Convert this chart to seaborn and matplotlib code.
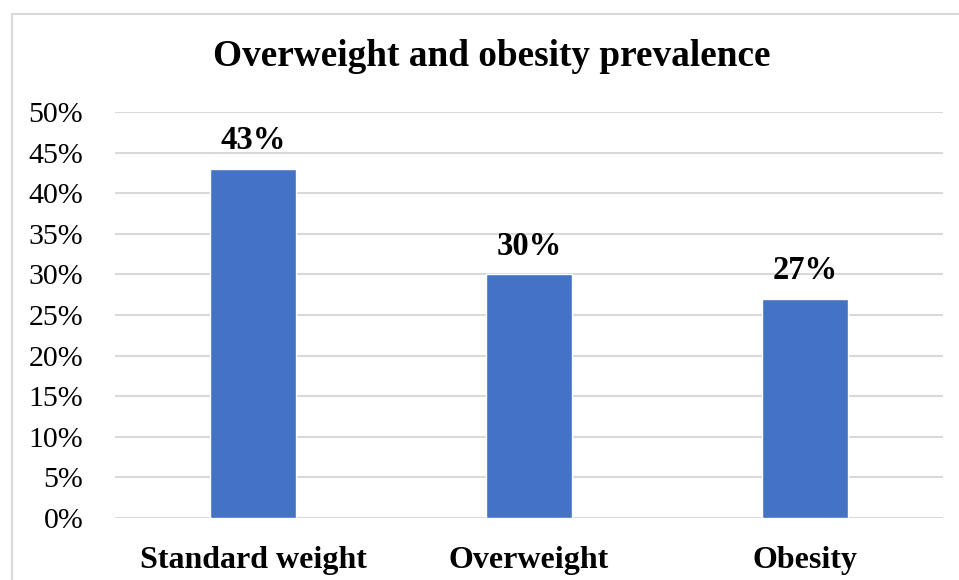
import matplotlib
matplotlib.use("Agg")
import matplotlib.pyplot as plt
import matplotlib.patches as mpatches
import seaborn as sns
import pandas as pd

# data
categories = ["Standard weight", "Overweight", "Obesity"]
prevalence = [43, 30, 27]
y_ticks = [0, 5, 10, 15, 20, 25, 30, 35, 40, 45, 50]

df = pd.DataFrame({"group": categories, "pct": prevalence})

sns.set_theme(style="white")
plt.rcParams["font.family"] = ["Liberation Serif", "DejaVu Serif"]
plt.rcParams["text.color"] = "black"
plt.rcParams["xtick.color"] = "black"
plt.rcParams["ytick.color"] = "black"

fig = plt.figure(figsize=(9.59, 5.80), dpi=100)
ax = fig.add_axes([0.12, 0.107, 0.863, 0.700])

sns.barplot(data=df, x="group", y="pct", color="#4472C4", width=0.31,
            saturation=1, ax=ax, zorder=3)

ax.set_ylim(0, 50)
ax.set_xlim(-0.5, 2.5)
ax.set_yticks(y_ticks)
ax.set_yticklabels([f"{t}%" for t in y_ticks], fontsize=21.5)
ax.set_xticks(range(len(categories)))
ax.set_xticklabels(categories, fontsize=23, fontweight="bold")
ax.tick_params(axis="x", length=0, pad=20)
ax.tick_params(axis="y", length=0, pad=23)
ax.yaxis.grid(True, color="#d9d9d9", linewidth=1.5, zorder=0)
ax.set_axisbelow(True)
ax.set_xlabel("")
ax.set_ylabel("")
for s in ax.spines.values():
    s.set_visible(False)

# bar value labels
for container in ax.containers:
    ax.bar_label(container, labels=[f"{v}%" for v in prevalence],
                 fontsize=23.5, fontweight="bold", padding=9)

fig.text(0.513, 0.902, "Overweight and obesity prevalence", ha="center",
         va="center", fontsize=26.8, fontweight="bold")

# chart border
fig.patches.append(mpatches.Rectangle((12 / 959, -0.01), 1.0, 1 - 14 / 580 + 0.01,
                                      transform=fig.transFigure, fill=False,
                                      edgecolor="#d9d9d9", linewidth=1.5))

fig.savefig("out.png", dpi=100)
